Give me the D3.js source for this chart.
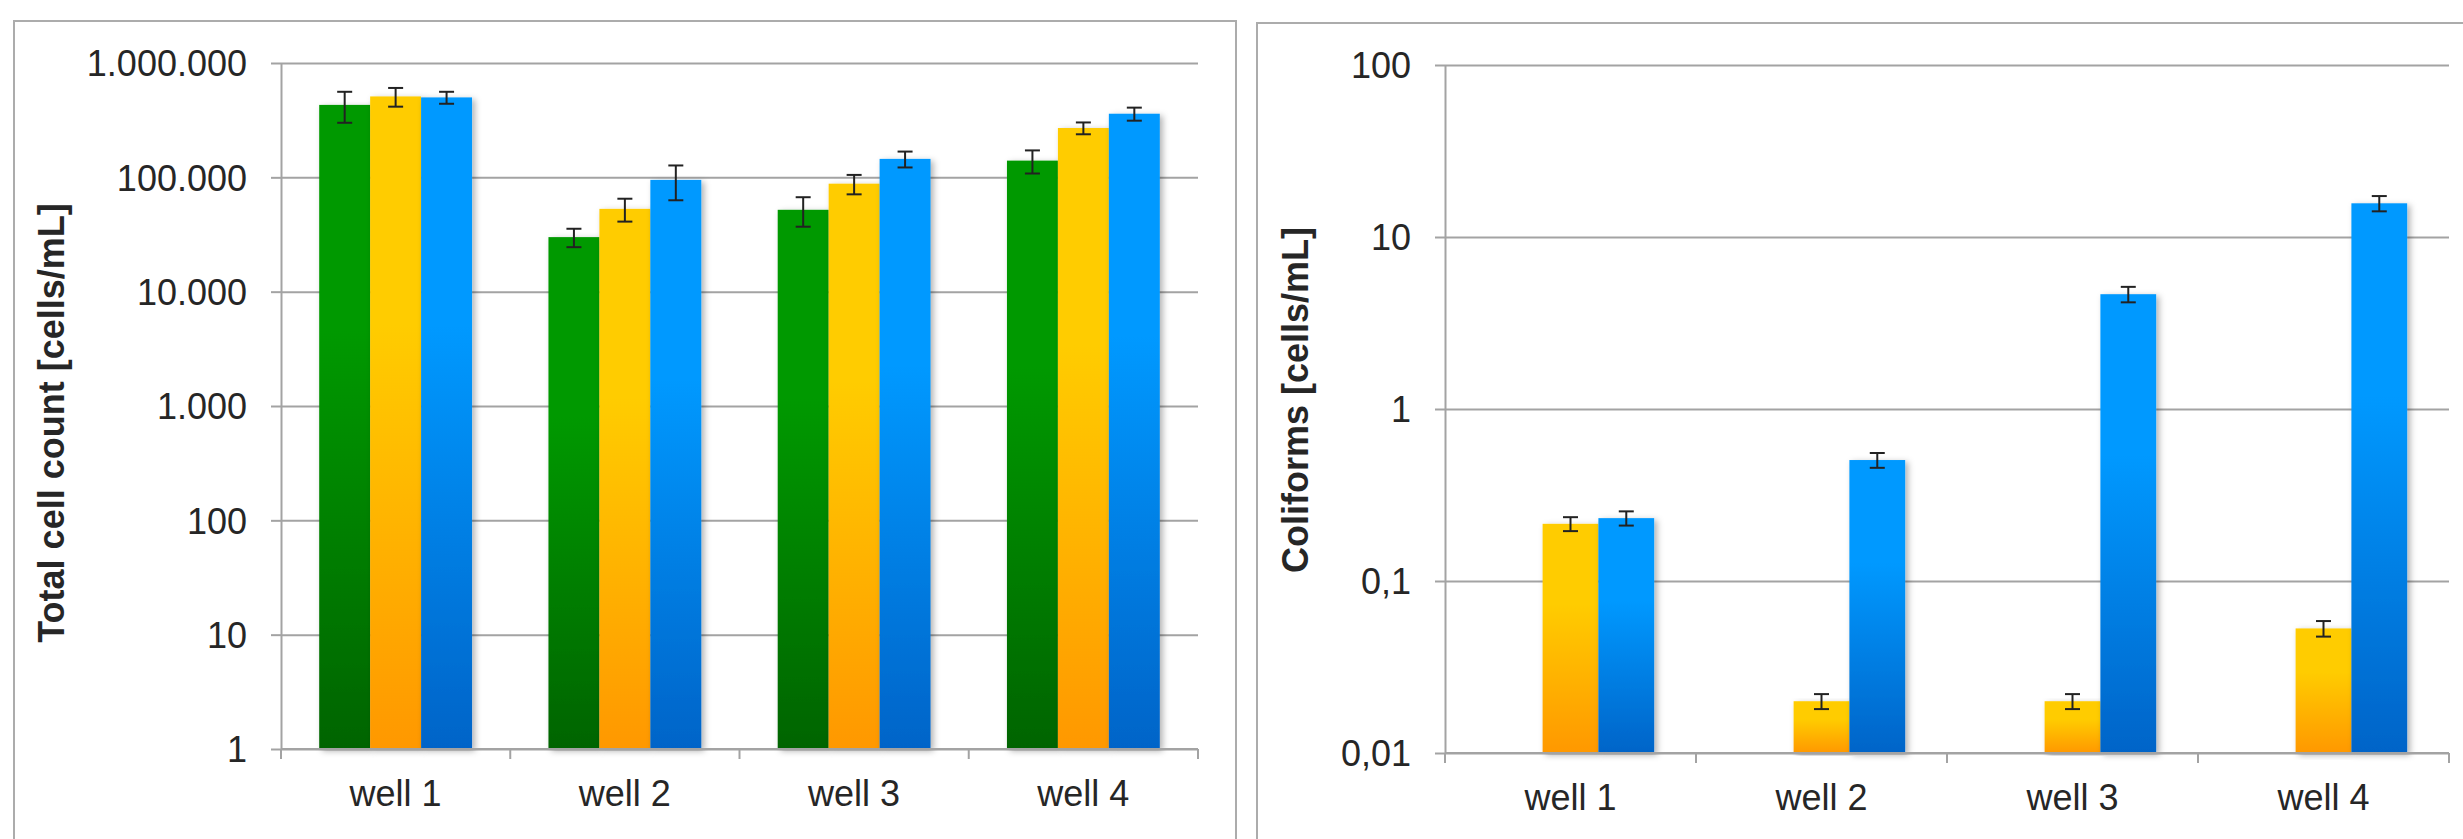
<!doctype html>
<html>
<head>
  <meta charset="utf-8">
  <title>Total cell count and coliforms per well</title>
  <script src="https://cdnjs.cloudflare.com/ajax/libs/d3/7.8.5/d3.min.js"></script>
  <style>
  body { margin: 0; background: #fff; }
  svg { display: block; font-family: "Liberation Sans", Arial, sans-serif; }
  .grid line { stroke: #a3a3a3; stroke-width: 2px; }
  .grid path { display: none; }
  .axis path, .axis line { stroke: #a3a3a3; stroke-width: 2px; }
  .axis text { fill: #262626; font-size: 36px; }
  .title { fill: #262626; font-size: 36px; font-weight: bold; }
  .err { stroke: #222; stroke-width: 2px; }
  .frame { fill: none; stroke: #acacac; stroke-width: 2px; }
  </style>
</head>
<body>
  <script>
  // values
  var wells = ["well 1", "well 2", "well 3", "well 4"],
    seriesKeys = ["green", "yellow", "blue"];

  var totalGreen = [430000, 30000, 52000, 140000],
    totalGreenErr = [130000, 5500, 15000, 32000],
    totalYellow = [510000, 53000, 88000, 270000],
    totalYellowErr = [95000, 12000, 17000, 32000],
    totalBlue = [500000, 95000, 145000, 360000],
    totalBlueErr = [60000, 32000, 23000, 47000];

  var coliYellow = [0.215, 0.02, 0.02, 0.053],
    coliYellowErr = [0.02, 0.002, 0.002, 0.0055],
    coliBlue = [0.232, 0.505, 4.65, 15.7],
    coliBlueErr = [0.022, 0.05, 0.48, 1.6];

  var totalTicks = [1, 10, 100, 1000, 10000, 100000, 1000000],
    totalTickLabels = ["1", "10", "100", "1.000", "10.000", "100.000", "1.000.000"],
    coliTicks = [0.01, 0.1, 1, 10, 100],
    coliTickLabels = ["0,01", "0,1", "1", "10", "100"];

  var colors = {
    green: ["#009900", "#006400"],
    yellow: ["#ffcc00", "#ff9800"],
    blue: ["#0099ff", "#0064c8"]
  };

  var svg = d3.select("body").append("svg")
      .attr("width", 2463)
      .attr("height", 839);

  var defs = svg.append("defs");
  seriesKeys.forEach(function(k) {
    var g = defs.append("linearGradient")
        .attr("id", "grad-" + k)
        .attr("x1", 0).attr("y1", 0).attr("x2", 0).attr("y2", 1);
    g.append("stop").attr("offset", 0).attr("stop-color", colors[k][0]);
    g.append("stop").attr("offset", 0.35).attr("stop-color", colors[k][0]);
    g.append("stop").attr("offset", 1).attr("stop-color", colors[k][1]);
  });
  defs.append("filter")
      .attr("id", "shadow")
      .attr("x", "-20%").attr("y", "-5%").attr("width", "140%").attr("height", "110%")
    .append("feDropShadow")
      .attr("dx", 3).attr("dy", 2).attr("stdDeviation", 3)
      .attr("flood-color", "#000").attr("flood-opacity", 0.3);

  // frames round the two charts
  svg.append("rect").attr("class", "frame")
      .attr("x", 14).attr("y", 21).attr("width", 1222).attr("height", 900);
  svg.append("rect").attr("class", "frame")
      .attr("x", 1257).attr("y", 23).attr("width", 1230).attr("height", 900);

  function drawPanel(p) {
    var x = d3.scaleBand().domain(wells).range([p.left, p.right]);
    var xs = d3.scaleBand().domain(seriesKeys)
        .range([0, x.bandwidth()])
        .paddingOuter(0.75);
    var y = d3.scaleLog().domain(p.domain).range([p.bottom, p.top]);
    var width = p.right - p.left;

    // gridlines
    svg.append("g")
        .attr("class", "grid")
        .attr("transform", "translate(" + p.left + ",0)")
        .call(d3.axisLeft(y).tickValues(p.ticks).tickSize(-width).tickFormat(""));

    // bars
    var rows = [];
    p.series.forEach(function(s) {
      s.values.forEach(function(v, i) {
        rows.push({key: s.key, well: wells[i], value: v, err: s.errors[i]});
      });
    });

    var g = svg.append("g");
    g.selectAll("rect")
      .data(rows)
      .enter().append("rect")
        .attr("x", function(d) { return x(d.well) + xs(d.key); })
        .attr("y", function(d) { return y(d.value); })
        .attr("width", xs.bandwidth())
        .attr("height", function(d) { return p.bottom - y(d.value); })
        .attr("fill", function(d) { return "url(#grad-" + d.key + ")"; })
        .attr("filter", "url(#shadow)");

    // y axis
    var yAxis = svg.append("g")
        .attr("class", "axis")
        .attr("transform", "translate(" + p.left + ",0)")
        .call(d3.axisLeft(y).tickValues(p.ticks).tickSizeInner(10).tickSizeOuter(0).tickPadding(24)
          .tickFormat(function(d, i) { return p.tickLabels[i]; }));
    yAxis.selectAll("text").attr("dy", "0.36em");

    // x axis: ticks between the wells, labels in the middle
    var xAxis = svg.append("g")
        .attr("class", "axis")
        .attr("transform", "translate(0," + p.bottom + ")");
    xAxis.append("line")
        .attr("x1", p.left).attr("x2", p.right);
    xAxis.selectAll(".tk")
      .data(wells.concat(["end"]))
      .enter().append("line")
        .attr("class", "tk")
        .attr("x1", function(d) { return d === "end" ? p.right : x(d); })
        .attr("x2", function(d) { return d === "end" ? p.right : x(d); })
        .attr("y1", 0).attr("y2", 10);
    xAxis.selectAll("text")
      .data(wells)
      .enter().append("text")
        .attr("x", function(d) { return x(d) + x.bandwidth() / 2; })
        .attr("y", p.labelY)
        .attr("text-anchor", "middle")
        .text(function(d) { return d; });

    // error bars
    var e = svg.append("g").attr("class", "err");
    var cap = 7.5;
    e.selectAll(".v")
      .data(rows)
      .enter().append("line")
        .attr("x1", function(d) { return x(d.well) + xs(d.key) + xs.bandwidth() / 2; })
        .attr("x2", function(d) { return x(d.well) + xs(d.key) + xs.bandwidth() / 2; })
        .attr("y1", function(d) { return y(d.value + d.err); })
        .attr("y2", function(d) { return y(d.value - d.err); });
    ["top", "bot"].forEach(function(side) {
      e.selectAll("." + side)
        .data(rows)
        .enter().append("line")
          .attr("x1", function(d) { return x(d.well) + xs(d.key) + xs.bandwidth() / 2 - cap; })
          .attr("x2", function(d) { return x(d.well) + xs(d.key) + xs.bandwidth() / 2 + cap; })
          .attr("y1", function(d) { return y(side === "top" ? d.value + d.err : d.value - d.err); })
          .attr("y2", function(d) { return y(side === "top" ? d.value + d.err : d.value - d.err); });
    });

    svg.append("text")
        .attr("class", "title")
        .attr("transform", "translate(" + p.titleX + "," + p.titleY + ") rotate(-90)")
        .attr("text-anchor", "middle")
        .text(p.title);
  }

  drawPanel({
    left: 281, right: 1198, top: 63, bottom: 749,
    domain: [1, 1000000],
    ticks: totalTicks, tickLabels: totalTickLabels,
    labelY: 57,
    series: [
      {key: "green", values: totalGreen, errors: totalGreenErr},
      {key: "yellow", values: totalYellow, errors: totalYellowErr},
      {key: "blue", values: totalBlue, errors: totalBlueErr}
    ],
    title: "Total cell count [cells/mL]", titleX: 64, titleY: 423
  });

  drawPanel({
    left: 1445, right: 2449, top: 65, bottom: 753,
    domain: [0.01, 100],
    ticks: coliTicks, tickLabels: coliTickLabels,
    labelY: 57,
    series: [
      {key: "yellow", values: coliYellow, errors: coliYellowErr},
      {key: "blue", values: coliBlue, errors: coliBlueErr}
    ],
    title: "Coliforms [cells/mL]", titleX: 1308, titleY: 400
  });
  </script>
</body>
</html>
